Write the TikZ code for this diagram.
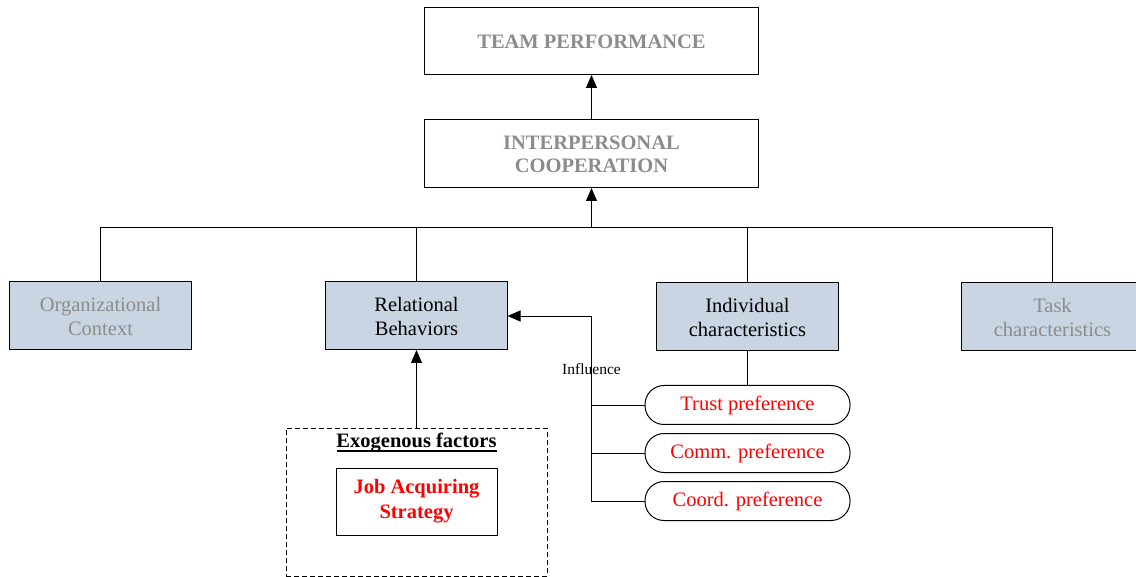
\documentclass[tikz,border=0pt]{standalone}
\usepackage{fontspec}
\setmainfont{Liberation Serif}
\usetikzlibrary{arrows.meta}
\definecolor{boxfill}{RGB}{201,213,227}
\definecolor{graytxt}{RGB}{140,140,140}
\begin{document}
\begin{tikzpicture}[x=1pt,y=-1pt,
  every node/.style={inner sep=0pt,outer sep=0pt},
  whitebox/.style={draw=black,line width=1pt,fill=white,minimum width=334pt,minimum height=67pt,align=center,
    font=\fontsize{20.5}{23}\selectfont\bfseries,text=graytxt},
  bluebox/.style={draw=black,line width=1pt,fill=boxfill,minimum width=182pt,minimum height=68pt,align=center,
    font=\fontsize{20.5}{24}\selectfont},
  pill/.style={draw=black,line width=1pt,rounded corners=19pt,minimum width=205pt,minimum height=39pt,
    font=\fontsize{20.5}{23}\selectfont,text=red},
  conn/.style={line width=0.9pt,draw=black},
  arr/.style={conn,-{Triangle[length=13pt,width=11pt]}}]
\useasboundingbox (0,0) rectangle (1136,577);
% top boxes
\node[whitebox] (tp) at (591.5,41.5) {TEAM PERFORMANCE};
\node[whitebox,minimum height=68pt] (ic) at (591.5,154) {INTERPERSONAL\\COOPERATION};
% second-level boxes
\node[bluebox,text=graytxt] (oc) at (100.5,316) {Organizational\\Context};
\node[bluebox] (rb) at (416.5,316) {Relational\\Behaviors};
\node[bluebox] (ich) at (747.5,317) {Individual\\characteristics};
\node[bluebox,text=graytxt] (tc) at (1052.5,317) {Task\\characteristics};
% pills
\node[pill] (trust) at (747.5,405) {Trust preference};
\node[pill] (comm) at (747.5,453) {Comm. preference};
\node[pill] (coord) at (747.5,501) {Coord. preference};
% exogenous
\node[draw=black,dash pattern=on 5pt off 3pt,line width=0.9pt,minimum width=261pt,minimum height=148pt] (exo) at (416.5,502) {};
\node[font=\fontsize{20.5}{23}\selectfont\bfseries] (exot) at (416.5,443) {Exogenous factors};
\draw[line width=1.4pt] ([yshift=-3pt]exot.base west) -- ([yshift=-3pt]exot.base east);
\node[draw=black,line width=1pt,minimum width=161pt,minimum height=67pt,align=center,text=red,
  font=\fontsize{20.5}{25}\selectfont\bfseries] (jas) at (416.5,501.5) {Job Acquiring\\Strategy};
% coordinates
\coordinate (bus) at (591.5,227.5);
\coordinate (infl) at (591.5,316);
% connectors
\draw[arr] (ic.north) -- (tp.south);
\draw[conn] (oc.north) |- (bus);
\draw[conn] (tc.north) |- (bus);
\draw[conn] (rb.north) |- (bus);
\draw[conn] (ich.north) |- (bus);
\draw[arr] (bus) -- (ic.south);
\draw[conn] (ich.south) -- (trust.north);
\draw[arr] (exo.north -| rb.south) -- (rb.south);
\draw[conn] (coord.west) -| (infl);
\draw[conn] (trust.west) -- (trust.west -| infl);
\draw[conn] (comm.west) -- (comm.west -| infl);
\draw[arr] (infl) -- (rb.east);
\node[font=\fontsize{15.5}{17}\selectfont] (lbl) at (591.5,369) {Influence};
\end{tikzpicture}
\end{document}
